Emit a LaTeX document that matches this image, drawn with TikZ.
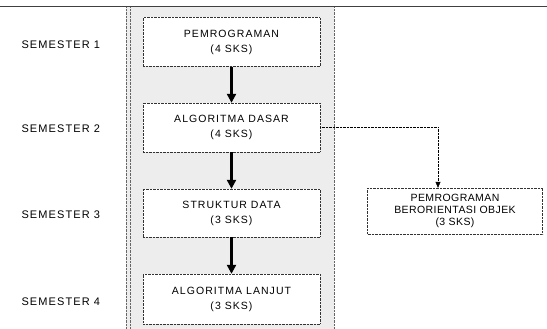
\documentclass[tikz,border=0pt]{standalone}
\usepackage{fontspec}
\setmainfont[LetterSpace=10]{Liberation Sans}
\usetikzlibrary{arrows.meta,positioning}

\tikzset{
  matkul/.style={draw=black!80,densely dotted,fill=white,minimum width=177pt,
    minimum height=49pt,align=center,font=\fontsize{10.5}{15}\selectfont,inner sep=2pt},
  semlabel/.style={font=\fontsize{11}{12}\selectfont,anchor=west},
  alur/.style={-{Triangle[length=9pt,width=9pt]},line width=2.6pt},
  cabang/.style={-{Triangle[length=6pt,width=5pt]},densely dotted,thin}
}

\begin{document}
\begin{tikzpicture}[x=1pt,y=-1pt]
        \useasboundingbox (0,0) rectangle (547,329);
        % kolom abu-abu
        \fill[black!7] (126,6) rectangle (334,329);
        \draw[black!60,densely dotted] (126,6) -- (126,329);
        \draw[black!60,densely dotted] (130,6) -- (130,329);
        \draw[black!60,densely dotted] (334,6) -- (334,329);
        \draw[black!75,line width=0.9pt] (0,6) -- (547,6);

        \node[matkul] (pemrog) at (231.5,42) {PEMROGRAMAN\\(4 SKS)};
        \node[matkul] (algodas) at (231.5,127.5) {ALGORITMA DASAR\\(4 SKS)};
        \node[matkul,minimum height=48pt] (strukdat) at (231.5,213) {STRUKTUR DATA\\(3 SKS)};
        \node[matkul,minimum height=50pt] (algolan) at (231.5,299) {ALGORITMA LANJUT\\(3 SKS)};
        \node[matkul,minimum width=175pt,minimum height=46pt,font=\fontsize{10.5}{12}\selectfont,inner sep=1pt]
            (pbo) at (455,211) {\addfontfeature{LetterSpace=4}PEMROGRAMAN\\
            \addfontfeature{LetterSpace=4}BERORIENTASI OBJEK\\\addfontfeature{LetterSpace=4}(3 SKS)};

        \node[semlabel] (sem1) at (18,45) {SEMESTER 1};
        \node[semlabel] (sem2) at (18,129) {SEMESTER 2};
        \node[semlabel] (sem3) at (18,215) {SEMESTER 3};
        \node[semlabel] (sem4) at (18,302) {SEMESTER 4};

        \draw[alur] (pemrog) -- (algodas);
        \draw[alur] (algodas) -- (strukdat);
        \draw[alur] (strukdat) -- (algolan);
        \coordinate (belok) at (438,127.5);
        \draw[cabang] (algodas.east) -- (belok) -- (belok |- pbo.north);

    \end{tikzpicture}
\end{document}
